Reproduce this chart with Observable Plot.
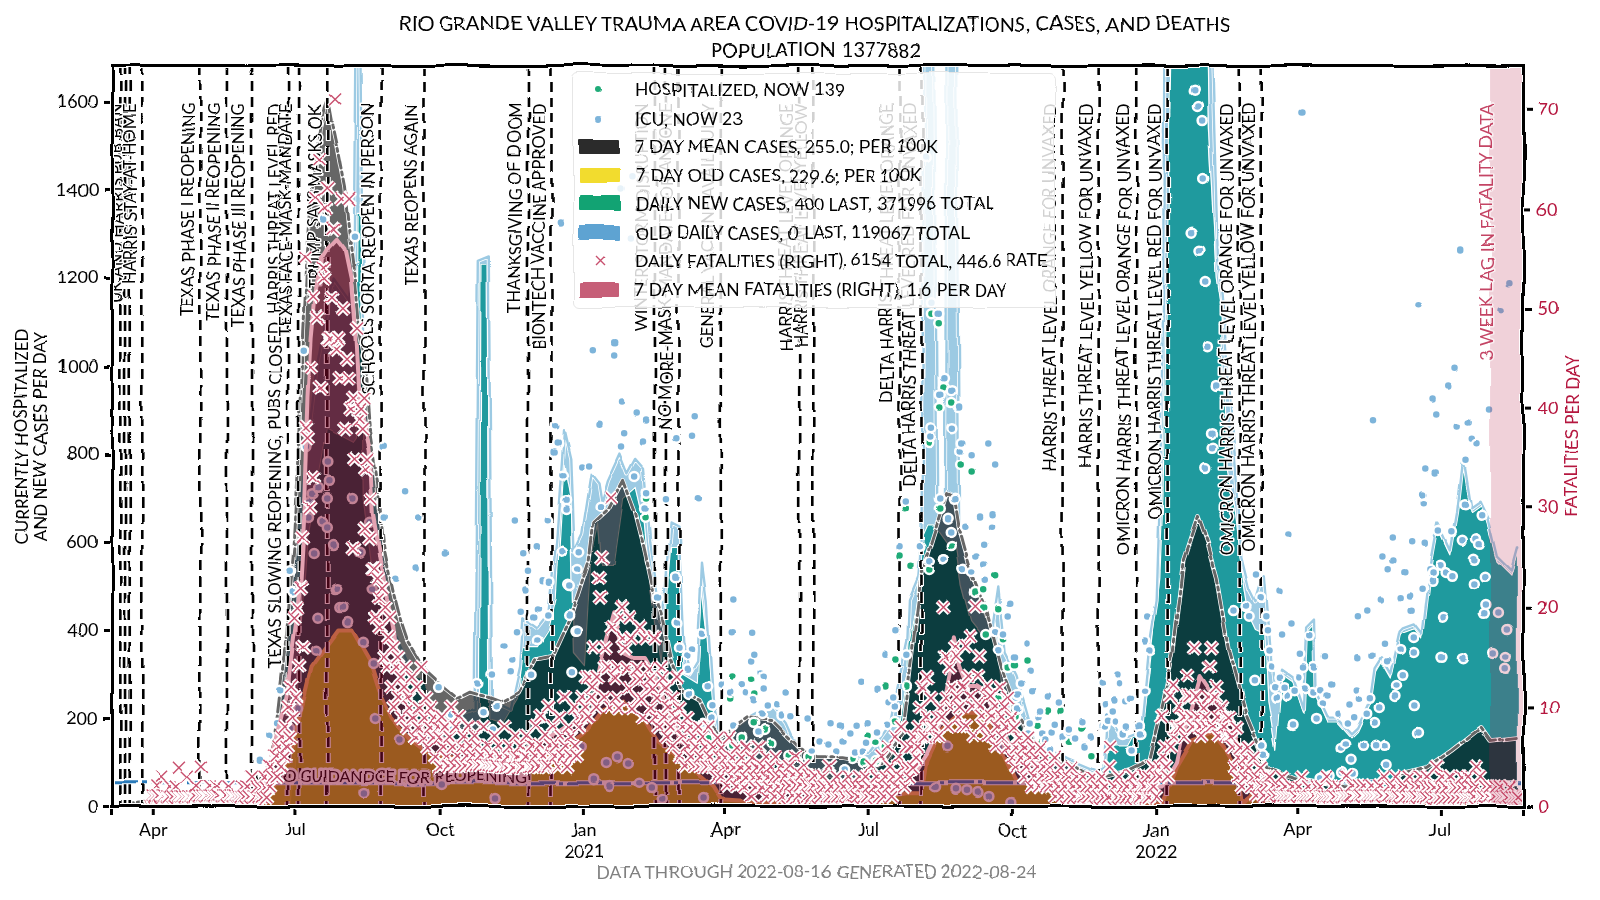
<!DOCTYPE html>
<html>
<head>
<meta charset="utf-8">
<script src="https://cdn.jsdelivr.net/npm/d3@7"></script>
<script src="https://cdn.jsdelivr.net/npm/@observablehq/plot@0.6"></script>
<style>
  html, body { margin: 0; background: white; overflow: hidden; }
  #page { position: relative; width: 1600px; height: 900px; font-family: Lato, 'Liberation Sans', sans-serif; filter: url(#wobble); background: white; }
  #title { box-sizing: border-box; height: 60px; padding: 10px 0 0 32px; text-align: center; font-size: 20px; line-height: 26px; }
  #plot svg { display: block; }
  #footer { box-sizing: border-box; padding-left: 32px; text-align: center; font-size: 17.5px; line-height: 20px; color: #808080; }
  #legend { position: absolute; left: 573px; top: 73px; width: 482px; height: 235px; box-sizing: border-box; background: rgba(255,255,255,.82); border: 1.5px solid #e6e6e6; border-radius: 6px; }
  .row { position: absolute; left: 0; height: 28px; line-height: 28px; font-size: 17.5px; white-space: nowrap; }
  .row span.txt { position: absolute; left: 61px; }
  .sw { position: absolute; left: 5px; top: 6px; width: 41px; height: 15px; border-radius: 1px; }
  .pt { position: absolute; left: 22px; top: 11px; width: 6px; height: 6px; border-radius: 50%; }
  .cross { position: absolute; left: 20px; top: 9px; }
  .crosses path[stroke="white"] { stroke-width: 5.2; }
</style>
</head>
<body>
<svg width="0" height="0" style="position:absolute">
  <filter id="wobble" color-interpolation-filters="sRGB" x="0" y="0" width="100%" height="100%">
    <feTurbulence type="fractalNoise" baseFrequency="0.018" numOctaves="2" seed="7" result="n"/>
    <feDisplacementMap in="SourceGraphic" in2="n" scale="6" xChannelSelector="R" yChannelSelector="G"/>
  </filter>
</svg>
<div id="page">
  <div id="title">RIO GRANDE VALLEY TRAUMA AREA COVID-19 HOSPITALIZATIONS, CASES, AND DEATHS<br>POPULATION 1377882</div>
  <div id="plot"></div>
  <div id="footer">DATA THROUGH 2022-08-16 GENERATED 2022-08-24</div>
  <div id="legend"></div>
</div>
<script>
const xStart = "2020-03-06";
const xEnd = "2022-08-23";
const yTop = 1684;
const rightTop = 74.4;
const whoLevel = 54;
const whoTextLevel = 68;
const whoTextDate = "2020-08-30";
const labelTop = 1598;
const lagStart = "2022-08-02";

const leftTicks = [0, 200, 400, 600, 800, 1000, 1200, 1400, 1600];
const rightTicks = [0, 10, 20, 30, 40, 50, 60, 70];
const tickDates = ["2020-03-06", "2020-04-01", "2020-07-01", "2020-10-01", "2021-01-01", "2021-04-01", "2021-07-01", "2021-10-01", "2022-01-01", "2022-04-01", "2022-07-01", "2022-08-23"];
const tickLabels = ["", "Apr", "Jul", "Oct", "Jan\n2021", "Apr", "Jul", "Oct", "Jan\n2022", "Apr", "Jul", ""];

const eventDates = ["2020-03-11", "2020-03-14", "2020-03-17", "2020-03-25", "2020-05-01", "2020-05-18", "2020-06-03", "2020-06-26", "2020-07-03", "2020-07-21", "2020-08-24", "2020-09-21", "2020-11-26", "2020-12-11", "2021-02-15", "2021-02-22", "2021-03-02", "2021-03-29", "2021-05-18", "2021-05-27", "2021-07-21", "2021-08-04", "2021-11-02", "2021-11-25", "2021-12-19", "2022-01-08", "2022-02-23", "2022-03-09"];
const eventLabels = ["", "", "UK AND HARRIS PUB BAN", "HARRIS STAY-AT-HOME", "TEXAS PHASE I REOPENING", "TEXAS PHASE II REOPENING", "TEXAS PHASE III REOPENING", "TEXAS SLOWING REOPENING, PUBS CLOSED, HARRIS THREAT LEVEL RED", "TEXAS FACE-MASK-MANDATE", "TRUMP SAYS MASKS OK", "SCHOOLS SORTA REOPEN IN PERSON", "TEXAS REOPENS AGAIN", "THANKSGIVING OF DOOM", "BIONTECH VACCINE APPROVED", "WINTER STORM DISRUPTION", "", "NO MORE-MASK-MANDATE FOR ANYONE", "GENERAL VACCINE AVAIL FULLY", "HARRIS THREAT LEVEL ORANGE", "HARRIS THREAT LEVEL YELLOW", "DELTA HARRIS THREAT LEVEL ORANGE", "DELTA HARRIS THREAT LEVEL RED FOR UNVAXED", "HARRIS THREAT LEVEL ORANGE FOR UNVAXED", "HARRIS THREAT LEVEL YELLOW FOR UNVAXED", "OMICRON HARRIS THREAT LEVEL ORANGE FOR UNVAXED", "OMICRON HARRIS THREAT LEVEL RED FOR UNVAXED", "OMICRON HARRIS THREAT LEVEL ORANGE FOR UNVAXED", "OMICRON HARRIS THREAT LEVEL YELLOW FOR UNVAXED"];

// date, cases per day (left axis)
const oldDailyCases = [["2020-03-06",0],["2020-04-01",10],["2020-06-01",30],["2020-06-15",100],["2020-06-25",350],["2020-07-05",700],["2020-07-15",1000],["2020-07-25",1200],["2020-08-04",1150],["2020-08-07",1300],["2020-08-08",1760],["2020-08-11",1760],["2020-08-13",1000],["2020-08-20",700],["2020-09-01",400],["2020-09-20",250],["2020-10-01",190],["2020-10-23",220],["2020-10-25",1240],["2020-11-01",1250],["2020-11-03",240],["2020-11-15",220],["2020-11-21",316],["2020-11-23",430],["2020-12-02",407],["2020-12-09",439],["2020-12-14",600],["2020-12-19",855],["2020-12-23",793],["2020-12-25",582],["2020-12-30",620],["2021-01-05",757],["2021-01-10",734],["2021-01-12",689],["2021-01-16",740],["2021-01-24",802],["2021-01-29",757],["2021-02-03",790],["2021-02-08",770],["2021-02-12",600],["2021-02-19",420],["2021-02-25",643],["2021-03-02",634],["2021-03-05",377],["2021-03-09",300],["2021-03-14",330],["2021-03-17",552],["2021-03-20",468],["2021-03-24",241],["2021-03-29",150],["2021-04-15",200],["2021-05-01",230],["2021-05-10",190],["2021-05-20",110],["2021-06-15",110],["2021-07-01",120],["2021-07-15",190],["2021-07-26",377],["2021-07-27",468],["2021-08-02",520],["2021-08-04",600],["2021-08-06",1760],["2021-08-12",1760],["2021-08-14",700],["2021-08-19",700],["2021-08-20",1760],["2021-08-26",1760],["2021-08-28",640],["2021-09-05",530],["2021-09-14",440],["2021-09-18",400],["2021-09-22",498],["2021-09-26",350],["2021-10-03",300],["2021-10-15",150],["2021-11-05",110],["2021-11-25",80],["2021-11-29",89],["2021-12-01",211],["2021-12-08",170],["2021-12-14",160],["2021-12-22",170],["2021-12-27",355],["2022-01-01",468],["2022-01-03",695],["2022-01-05",1100],["2022-01-06",1760],["2022-02-05",1760],["2022-02-09",1250],["2022-02-11",1182],["2022-02-13",1100],["2022-02-22",700],["2022-02-24",566],["2022-03-01",493],["2022-03-05",464],["2022-03-08",500],["2022-03-11",523],["2022-03-13",432],["2022-03-15",334],["2022-03-18",243],["2022-03-22",311],["2022-03-29",293],["2022-04-05",218],["2022-04-07",409],["2022-04-12",427],["2022-04-13",257],["2022-04-20",202],["2022-04-26",202],["2022-05-05",166],["2022-05-09",180],["2022-05-17",241],["2022-05-20",316],["2022-05-24",339],["2022-05-30",302],["2022-06-05",400],["2022-06-07",407],["2022-06-14",416],["2022-06-19",393],["2022-06-24",543],["2022-06-29",643],["2022-07-07",582],["2022-07-11",666],["2022-07-15",793],["2022-07-20",680],["2022-07-26",695],["2022-07-31",657],["2022-08-06",568],["2022-08-15",536],["2022-08-19",589]];
const newDailyCases = [["2020-06-28",0],["2020-07-04",400],["2020-07-08",600],["2020-07-21",860],["2020-08-06",830],["2020-08-08",840],["2020-08-09",1350],["2020-08-11",1350],["2020-08-13",700],["2020-08-20",500],["2020-09-01",420],["2020-09-10",300],["2020-09-20",290],["2020-10-01",200],["2020-10-15",160],["2020-10-26",180],["2020-10-27",1230],["2020-10-31",1230],["2020-11-01",200],["2020-11-10",190],["2020-11-20",250],["2020-11-23",361],["2020-12-02",361],["2020-12-09",400],["2020-12-14",475],["2020-12-19",780],["2020-12-23",700],["2020-12-25",350],["2021-01-01",320],["2021-01-05",560],["2021-01-10",640],["2021-01-12",550],["2021-01-20",550],["2021-01-26",700],["2021-02-03",725],["2021-02-08",650],["2021-02-12",500],["2021-02-19",330],["2021-02-25",589],["2021-03-02",589],["2021-03-05",300],["2021-03-14",280],["2021-03-17",498],["2021-03-20",400],["2021-03-24",200],["2021-03-29",100],["2021-04-05",60],["2021-04-20",110],["2021-05-15",90],["2021-06-01",70],["2021-06-15",60],["2021-07-01",70],["2021-07-15",110],["2021-07-20",160],["2021-07-26",300],["2021-07-27",370],["2021-08-01",470],["2021-08-03",600],["2021-08-08",640],["2021-08-12",640],["2021-08-20",600],["2021-08-26",600],["2021-08-30",500],["2021-09-05",420],["2021-09-14",380],["2021-09-20",420],["2021-09-24",280],["2021-10-03",210],["2021-10-15",130],["2021-11-04",60],["2021-11-25",50],["2021-12-01",140],["2021-12-14",140],["2021-12-20",180],["2021-12-22",166],["2021-12-27",300],["2021-12-30",400],["2022-01-03",520],["2022-01-05",700],["2022-01-07",1100],["2022-01-10",1700],["2022-01-12",1760],["2022-02-02",1760],["2022-02-03",1543],["2022-02-08",1202],["2022-02-11",1127],["2022-02-13",940],["2022-02-14",800],["2022-02-20",680],["2022-02-24",550],["2022-03-01",430],["2022-03-05",400],["2022-03-11",390],["2022-03-13",240],["2022-03-18",130],["2022-03-22",300],["2022-03-29",283],["2022-04-05",208],["2022-04-07",398],["2022-04-12",417],["2022-04-13",247],["2022-04-20",192],["2022-04-26",192],["2022-05-05",156],["2022-05-09",170],["2022-05-17",231],["2022-05-20",306],["2022-05-24",329],["2022-05-30",292],["2022-06-05",390],["2022-06-07",397],["2022-06-14",406],["2022-06-19",383],["2022-06-24",533],["2022-06-29",633],["2022-07-07",572],["2022-07-11",656],["2022-07-15",783],["2022-07-20",670],["2022-07-26",685],["2022-07-31",647],["2022-08-06",558],["2022-08-15",526],["2022-08-19",579]];
const meanCases = [["2020-03-06",0],["2020-04-01",12],["2020-05-01",18],["2020-05-20",20],["2020-06-05",45],["2020-06-15",104],["2020-06-19",202],["2020-06-25",393],["2020-06-30",600],["2020-07-03",800],["2020-07-06",1080],["2020-07-08",1240],["2020-07-11",1380],["2020-07-14",1480],["2020-07-16",1540],["2020-07-19",1590],["2020-07-21",1610],["2020-07-24",1550],["2020-07-27",1500],["2020-08-01",1406],["2020-08-04",1300],["2020-08-07",1211],["2020-08-10",1082],["2020-08-14",1000],["2020-08-17",854],["2020-08-22",740],["2020-08-26",590],["2020-09-01",490],["2020-09-06",420],["2020-09-10",377],["2020-09-20",316],["2020-10-01",280],["2020-10-12",248],["2020-10-20",262],["2020-11-01",250],["2020-11-10",238],["2020-11-20",257],["2020-12-01",332],["2020-12-11",339],["2020-12-18",393],["2020-12-23",430],["2021-01-04",560],["2021-01-07",643],["2021-01-16",673],["2021-01-26",741],["2021-02-02",673],["2021-02-08",589],["2021-02-14",491],["2021-02-19",439],["2021-02-25",332],["2021-03-04",264],["2021-03-15",241],["2021-03-21",195],["2021-03-29",157],["2021-04-15",202],["2021-05-01",195],["2021-05-18",134],["2021-05-29",111],["2021-06-14",111],["2021-07-04",98],["2021-07-10",98],["2021-07-23",166],["2021-08-04",530],["2021-08-11",611],["2021-08-20",711],["2021-08-25",702],["2021-08-28",634],["2021-09-05",530],["2021-09-14",452],["2021-09-24",316],["2021-10-05",211],["2021-10-17",134],["2021-11-04",105],["2021-11-19",75],["2021-11-27",66],["2021-12-14",82],["2021-12-27",105],["2022-01-05",241],["2022-01-11",355],["2022-01-18",560],["2022-01-27",657],["2022-02-02",598],["2022-02-08",520],["2022-02-16",355],["2022-02-27",211],["2022-03-07",143],["2022-03-13",89],["2022-03-29",66],["2022-05-01",43],["2022-05-26",36],["2022-06-07",75],["2022-06-23",89],["2022-07-08",127],["2022-07-27",180],["2022-08-02",150],["2022-08-19",157]];
const oldMeanCases = [["2020-03-06",0],["2020-06-10",5],["2020-06-20",60],["2020-06-28",134],["2020-07-07",257],["2020-07-11",316],["2020-07-20",361],["2020-07-28",400],["2020-08-06",400],["2020-08-17",332],["2020-08-23",264],["2020-08-31",202],["2020-09-11",157],["2020-09-22",127],["2020-10-13",105],["2020-11-03",89],["2020-11-17",98],["2020-12-15",120],["2021-01-01",166],["2021-01-12",218],["2021-01-26",241],["2021-02-08",202],["2021-02-17",150],["2021-03-04",105],["2021-03-24",43],["2021-03-29",14],["2021-04-15",10],["2021-06-10",8],["2021-07-10",20],["2021-07-25",30],["2021-08-04",30],["2021-08-07",105],["2021-08-16",173],["2021-08-28",211],["2021-09-14",211],["2021-09-24",127],["2021-10-03",59],["2021-10-17",43],["2021-11-01",30],["2021-11-21",14],["2022-01-05",7],["2022-01-14",89],["2022-01-24",150],["2022-02-06",166],["2022-02-15",127],["2022-02-22",82],["2022-02-25",7],["2022-03-05",30],["2022-03-08",5],["2022-08-19",4]];

// date, fatalities per day (right axis)
const meanFatalities = [["2020-03-25",0],["2020-04-10",1],["2020-06-01",1],["2020-06-10",1.4],["2020-06-15",4.7],["2020-06-20",8],["2020-06-25",11],["2020-06-28",14.8],["2020-07-01",18.5],["2020-07-04",22.8],["2020-07-07",31],["2020-07-09",41],["2020-07-11",47],["2020-07-14",52],["2020-07-17",55],["2020-07-21",56],["2020-07-27",57],["2020-08-01",56],["2020-08-05",53],["2020-08-08",47],["2020-08-10",41],["2020-08-17",36],["2020-08-19",29.5],["2020-08-24",25],["2020-08-28",21],["2020-09-01",18],["2020-09-04",14.8],["2020-09-11",9.7],["2020-09-22",7.4],["2020-10-01",7],["2020-10-15",6],["2020-11-01",5],["2020-11-15",5.5],["2020-12-01",6],["2020-12-20",8],["2021-01-05",9.5],["2021-01-12",14.8],["2021-01-20",19.5],["2021-01-26",15.5],["2021-02-01",15],["2021-02-08",15],["2021-02-19",12],["2021-02-25",9],["2021-03-04",6.4],["2021-03-15",5.4],["2021-03-24",4.4],["2021-04-01",4],["2021-04-15",3],["2021-05-01",3],["2021-06-01",2],["2021-07-01",2],["2021-07-17",2],["2021-07-30",3.4],["2021-08-07",5.4],["2021-08-16",8.4],["2021-08-22",13.4],["2021-08-24",17],["2021-08-28",14],["2021-09-02",12],["2021-09-08",12],["2021-09-14",11.4],["2021-09-18",10],["2021-09-27",7.4],["2021-10-03",5],["2021-10-16",4],["2021-11-01",3],["2021-12-01",1.5],["2022-01-05",2],["2022-01-14",4.4],["2022-01-18",7.4],["2022-01-22",9],["2022-01-29",13],["2022-02-09",10.4],["2022-02-18",9],["2022-02-24",4.7],["2022-03-01",3],["2022-03-20",2],["2022-04-15",1.2],["2022-06-01",1],["2022-08-19",1.6]];
// one value per day, first value is fatalitiesStart
const fatalitiesStart = "2020-03-30";
const dailyFatalities = [
0,1,0,1,2,1,0,3,1,1,0,1,1,2,0,1,0,2,1,4,1,1,0,1,3,1,1,0,1,1,
2,0,1,4,1,0,1,1,2,1,0,1,2,1,0,0,1,1,1,0,2,1,0,1,1,0,1,0,1,2,
1,0,2,1,0,3,1,1,2,0,1,2,1,3,2,1,4,2,3,5,
5,3,6,4,7,5,8,6,10,7,12,9,19,11,20,14,22,27,16,55,38,37,30,44,51,33,61,49,65,42,
54,53,60,62,47,47,51,58,71,46,47,43,61,50,38,45,43,61,40,41,26,35,48,39,40,38,41,28,34,35,
27,31,24,24,19,23,21,18,22,15,20,14,17,19,
12,16,10,14,15,11,13,9,12,14,8,11,10,13,9,7,12,8,10,14,7,9,11,6,8,10,7,9,5,8,
7,4,9,6,8,5,4,7,10,6,4,8,5,9,4,6,7,4,5,8,6,4,5,7,4,6,4,5,8,4,
4,6,4,5,4,7,4,4,6,5,4,4,8,4,5,6,4,4,5,7,5,4,6,4,5,5,7,4,4,6,
4,5,8,4,6,9,5,4,7,4,10,6,5,8,5,6,4,9,7,5,11,6,4,8,5,7,10,6,5,9,
8,11,9,10,13,9,13,11,12,16,10,13,23,21,25,11,14,16,14,10,31,18,13,11,14,10,19,20,17,16,
14,12,19,17,10,13,14,11,13,18,11,9,17,12,14,13,10,12,17,9,11,8,14,13,9,12,7,10,8,11,
6,9,13,10,5,8,7,4,9,6,8,5,7,4,6,8,4,5,7,4,6,4,8,5,4,6,4,3,7,5,
3,6,4,5,2,4,7,3,5,4,2,6,3,4,5,2,3,6,4,1,5,3,2,4,6,3,2,4,1,5,
3,2,4,1,3,5,2,3,1,4,2,3,0,2,4,1,3,2,5,1,2,3,0,4,2,1,3,2,1,2,
3,1,0,2,1,3,2,0,1,4,1,2,0,1,3,1,2,0,1,2,1,0,3,1,2,1,0,2,1,3,
0,2,1,3,1,2,4,1,0,2,3,1,5,2,1,3,6,2,4,1,3,7,2,5,3,8,4,2,6,4,
3,6,4,7,5,6,8,10,7,12,7,9,13,8,11,8,8,7,9,7,10,9,20,15,11,8,14,10,12,16,
15,11,9,10,8,12,16,8,13,17,11,10,7,20,13,15,10,9,8,11,12,7,11,9,7,10,6,8,12,9,
7,10,8,11,6,9,5,8,4,6,7,7,5,3,6,4,7,5,2,6,3,5,4,2,6,3,4,5,2,3,
4,2,3,5,1,3,2,4,1,3,2,0,3,1,4,2,1,3,0,2,1,3,1,2,0,1,2,3,1,0,
2,1,0,3,1,2,0,1,4,6,0,2,1,0,3,1,2,0,1,2,0,1,3,0,2,1,0,1,2,3,
2,1,3,1,2,4,2,3,1,4,3,9,5,6,4,3,11,6,12,7,8,8,10,8,9,9,7,11,13,11,
9,8,16,11,9,8,8,7,10,9,8,11,14,16,8,11,12,9,7,10,8,8,9,7,9,7,7,6,4,8,
3,5,6,2,4,3,5,6,4,2,3,5,1,3,2,4,2,1,3,2,3,1,2,2,1,0,2,1,3,1,
2,1,0,1,2,1,1,0,2,1,3,1,0,1,2,1,0,1,1,2,0,1,2,1,0,1,3,1,0,1,
2,1,1,0,2,1,0,1,1,3,1,0,1,2,0,1,1,2,1,0,2,1,1,0,1,2,1,0,1,1,
2,1,0,3,1,1,2,0,1,2,1,3,1,0,2,1,1,2,0,1,3,1,2,1,0,2,1,3,1,2,
1,3,2,1,0,2,1,4,1,2,3,1,2,0,1,3,2,1,2,0,1,2,3,1,2,1,3,1,2,1,
0,2,4,1,3,1,0,2,1,1,2,0,1,1,2,0,1,2,1,0,1,1,0,2,1,0,1,0,1,0
];

// days since xStart, patients (left axis)
const icuPatients = [[94,104],[100,161],[105,189],[107,264],[113,536],[115,489],[113,180],[118,225],[122,1036],[124,818],[125,657],[126,691],[128,711],[128,575],[130,355],[131,430],[132,723],[134,648],[135,1332],[137,700],[137,634],[138,784],[139,739],[139,1064],[141,593],[142,493],[143,495],[145,452],[147,452],[150,418],[153,702],[154,1295],[158,580],[160,373],[161,32],[164,648],[165,495],[166,325],[167,198],[173,657],[173,820],[181,518],[181,520],[183,152],[186,714],[194,541],[194,543],[195,657],[201,157],[208,273],[210,50],[212,575],[216,209],[217,175],[233,282],[236,214],[242,302],[242,175],[244,18],[245,230],[250,366],[254,305],[255,332],[256,650],[258,398],[261,445],[262,573],[264,493],[264,534],[265,536],[267,295],[269,430],[269,432],[270,589],[271,377],[272,450],[273,198],[275,514],[277,648],[278,434],[279,511],[282,807],[283,864],[284,827],[286,1327],[287,755],[287,580],[289,695],[289,675],[291,434],[291,505],[292,502],[293,305],[295,398],[296,398],[297,541],[298,580],[299,775],[299,134],[304,775],[307,1039],[307,61],[310,870],[311,680],[315,98],[317,48],[320,1055],[320,1027],[322,111],[324,1402],[325,918],[325,818],[327,848],[329,98],[330,1293],[331,1430],[334,750],[335,891],[336,55],[339,825],[340,677],[341,875],[341,714],[344,43],[348,475],[350,16],[353,698],[359,839],[359,520],[360,418],[361,361],[366,343],[367,311],[367,257],[369,845],[369,359],[372,889],[374,698],[376,395],[376,189],[377,18],[379,273],[382,202],[382,230],[388,277],[394,257],[395,398],[396,468],[396,184],[402,273],[404,255],[408,395],[408,327],[409,239],[410,345],[412,168],[414,209],[414,302],[416,295],[416,266],[418,227],[424,230],[427,207],[430,257],[433,205],[444,202],[446,125],[451,148],[456,141],[458,189],[461,125],[464,184],[465,148],[467,84],[470,168],[473,123],[474,186],[477,286],[478,125],[479,145],[480,145],[481,189],[487,168],[488,270],[493,345],[494,186],[495,239],[498,250],[499,227],[500,398],[502,589],[506,691],[507,345],[515,589],[519,1475],[521,555],[521,841],[522,861],[523,1145],[525,45],[527,1120],[528,700],[528,936],[530,973],[530,561],[532,136],[533,655],[535,625],[535,945],[536,861],[537,698],[538,39],[540,909],[541,807],[542,827],[543,539],[544,636],[545,36],[548,798],[549,532],[551,568],[552,32],[554,659],[556,595],[556,550],[557,511],[558,825],[559,23],[561,636],[562,664],[563,775],[563,398],[565,355],[566,134],[568,393],[570,227],[571,434],[572,461],[573,9],[575,341],[576,250],[577,225],[577,257],[579,282],[583,375],[584,168],[585,191],[585,311],[586,264],[590,205],[591,218],[593,168],[595,152],[596,250],[598,130],[599,168],[600,189],[601,186],[603,234],[606,157],[606,157],[610,166],[610,173],[614,152],[618,193],[618,189],[620,139],[620,134],[624,161],[624,157],[631,277],[631,182],[633,230],[633,182],[635,205],[635,195],[638,216],[639,239],[639,241],[640,193],[641,300],[642,280],[645,166],[646,239],[647,182],[649,245],[650,127],[655,184],[656,166],[658,261],[659,377],[660,432],[662,357],[688,1305],[690,1630],[692,1593],[693,1264],[695,1561],[696,1425],[697,1193],[698,768],[699,1045],[701,845],[702,814],[704,957],[715,443],[723,452],[725,430],[728,289],[730,527],[733,473],[734,141],[735,120],[736,430],[737,398],[738,352],[739,318],[741,273],[742,248],[744,295],[745,491],[746,391],[747,270],[749,250],[750,618],[752,418],[753,184],[754,261],[757,293],[758,345],[759,1577],[760,316],[761,268],[764,389],[766,259],[767,316],[768,198],[769,64],[771,264],[772,234],[774,339],[775,252],[776,70],[778,277],[782,211],[783,132],[784,77],[786,141],[788,191],[789,234],[790,105],[791,73],[792,205],[793,266],[794,339],[795,430],[795,245],[797,48],[798,139],[800,211],[801,443],[802,248],[803,345],[804,880],[805,191],[806,139],[808,225],[809,468],[810,568],[811,370],[812,139],[813,330],[813,95],[814,539],[816,609],[817,559],[818,250],[819,275],[821,473],[821,357],[823,298],[824,530],[827,477],[828,445],[829,598],[830,384],[830,350],[831,227],[833,1139],[833,166],[835,495],[836,709],[837,689],[837,595],[838,768],[840,539],[841,514],[842,927],[842,532],[844,759],[845,893],[846,625],[847,548],[848,339],[849,430],[850,532],[852,957],[854,623],[854,523],[856,995],[858,866],[859,1266],[861,605],[861,336],[862,686],[863,786],[865,875],[867,836],[868,564],[868,507],[870,823],[870,611],[872,598],[873,664],[875,523],[875,439],[876,459],[878,902],[881,350],[884,441],[886,1128],[888,314],[889,341],[890,402],[891,1189]];
const hospitalPatients = [[299,775],[340,655],[341,702],[380,155],[382,130],[394,243],[396,293],[396,141],[402,157],[404,98],[408,286],[409,189],[410,252],[416,175],[417,102],[420,145],[432,116],[444,111],[472,109],[479,100],[479,100],[481,161],[481,161],[486,145],[487,102],[492,134],[493,275],[499,193],[500,334],[502,568],[506,673],[507,275],[509,545],[520,827],[521,534],[523,1120],[527,1098],[528,907],[528,677],[530,952],[530,561],[535,918],[535,593],[541,775],[548,759],[551,484],[556,489],[556,450],[557,391],[563,523],[563,398],[565,448],[565,245],[568,380],[571,318],[575,323],[576,207],[583,334],[584,173],[590,186],[593,150],[596,218],[598,118],[604,216],[609,145],[610,145],[618,177],[618,175],[625,114]];

const lag3Week = "3 WEEK LAG IN FATALITY DATA";
const whoText = "WHO GUIDANDCE FOR REOPENING";
const legendRows = [
  ["pt", "#1fab78", "HOSPITALIZED, NOW 139"],
  ["pt", "#7db4da", "ICU, NOW 23"],
  ["sw", "#2b2b2b", "7 DAY MEAN CASES, 255.0; PER 100K"],
  ["sw", "#f2dc2e", "7 DAY OLD CASES, 229.6; PER 100K"],
  ["sw", "#12a373", "DAILY NEW CASES, 400 LAST, 371996 TOTAL"],
  ["sw", "#5ea3d2", "OLD DAILY CASES, 0 LAST, 119067 TOTAL"],
  ["x", "#c8506e", "DAILY FATALITIES (RIGHT), 6154 TOTAL, 446.6 RATE"],
  ["sw", "#c65f78", "7 DAY MEAN FATALITIES (RIGHT), 1.6 PER DAY"]
];

const crimson = "#b5173f";
const crossColor = "#c8506e";
const leftFromRight = d3.scaleLinear().domain([0, rightTop]).range([0, yTop]);
const rows = pairs => pairs.map(([date, value]) => ({ date: new Date(date), value }));
const fatalRows = pairs => pairs.map(([date, value]) => ({ date: new Date(date), value: leftFromRight(value) }));
const dayRows = list => list.map(([day, value]) => ({ date: d3.utcDay.offset(new Date(xStart), day), value }));

const oldDaily = rows(oldDailyCases);
const newDaily = rows(newDailyCases);
const meanRows = rows(meanCases);
const oldMean = rows(oldMeanCases);
const redMean = fatalRows(meanFatalities);
// every cross gets its own white halo first, so later ones cover earlier ones
const crosses = dailyFatalities.flatMap((v, i) => {
  const row = { date: d3.utcDay.offset(new Date(fatalitiesStart), i), value: leftFromRight(v) };
  return [{ ...row, pen: "white" }, { ...row, pen: crossColor }];
});
const events = eventDates.map((d, i) => ({ date: new Date(d), label: eventLabels[i] }));
const labelled = events.filter(d => d.label);
const tickByTime = new Map(tickDates.map((d, i) => [+new Date(d), tickLabels[i]]));
const area = (data, o) => Plot.areaY(data, { x: "date", y: "value", clip: true, ...o });
const line = (data, o) => Plot.lineY(data, { x: "date", y: "value", clip: true, ...o });

const chart = Plot.plot({
  width: 1600,
  height: 802,
  marginLeft: 112,
  marginRight: 77,
  marginTop: 5,
  marginBottom: 56,
  style: { fontFamily: "Lato, 'Liberation Sans', sans-serif", fontSize: "18px", background: "white", color: "black", overflow: "visible" },
  x: { type: "utc", domain: [new Date(xStart), new Date(xEnd)] },
  y: { domain: [0, yTop] },
  marks: [
    // daily cases
    area(oldDaily, { fill: "#9ccae3" }),
    area(newDaily, { fill: "#1f9a9e" }),
    line(newDaily, { stroke: "white", strokeWidth: 1.2 }),
    line(oldDaily, { stroke: "white", strokeWidth: 4 }),
    line(oldDaily, { stroke: "#9ccae3", strokeWidth: 2.4 }),
    // 7 day means
    area(meanRows, { fill: "black", fillOpacity: 0.6 }),
    line(meanRows, { stroke: "white", strokeWidth: 4.5 }),
    line(meanRows, { stroke: "#666", strokeWidth: 3, strokeDasharray: "14 4 3 4" }),
    area(oldMean, { fill: "#f3dc00", fillOpacity: 0.7 }),
    line(oldMean, { stroke: "#f3b95a", strokeWidth: 4 }),
    // events
    Plot.ruleX(events, { x: "date", stroke: "white", strokeWidth: 5, strokeDasharray: "11 5" }),
    Plot.ruleX(events, { x: "date", stroke: "black", strokeWidth: 2.6, strokeDasharray: "10 6" }),
    Plot.text(labelled, { x: "date", y: () => labelTop, text: "label", rotate: -90, textAnchor: "end", dx: -12, fontSize: 16.5, fill: "black", stroke: "white", strokeWidth: 3 }),
    // who guidance
    Plot.ruleY([whoLevel], { stroke: "white", strokeWidth: 5 }),
    Plot.ruleY([whoLevel], { stroke: "#2b7bba", strokeWidth: 3, strokeDasharray: "26 4 4 4" }),
    Plot.text([whoText], { x: () => new Date(whoTextDate), y: () => whoTextLevel, text: d => d, fontSize: 16, fill: "black", stroke: "white", strokeWidth: 5 }),
    // patients
    Plot.dot(dayRows(hospitalPatients), { x: "date", y: "value", r: 4.5, fill: "#1fab78", stroke: "white", strokeWidth: 2.5, clip: true }),
    Plot.dot(dayRows(icuPatients), { x: "date", y: "value", r: 4.5, fill: "#7db4da", stroke: "white", strokeWidth: 2.5, clip: true }),
    // fatalities, right axis
    area(redMean, { fill: "#88082b", fillOpacity: 0.5 }),
    line(redMean, { stroke: "#e4a3b2", strokeWidth: 4 }),
    Plot.dot(crosses, { x: "date", y: "value", symbol: "times", r: 5.5, stroke: "pen", strokeWidth: 1.4, clip: true, className: "crosses" }),
    // lag span
    Plot.rect([lagStart], { x1: d => new Date(d), x2: () => new Date(xEnd), y1: () => 0, y2: () => yTop, fill: crimson, fillOpacity: 0.2 }),
    Plot.text([lag3Week], { x: () => new Date(lagStart), y: () => labelTop, text: d => d, rotate: -90, textAnchor: "end", dx: -3, fontSize: 17.8, fill: crimson, fillOpacity: 0.8, stroke: "white", strokeWidth: 3, strokeOpacity: 0.6 }),
    // axes
    Plot.axisY(leftTicks, { anchor: "left", label: null, tickSize: 8, tickPadding: 6, strokeWidth: 3, fontSize: 18, tickFormat: d => String(d) }),
    Plot.axisY(rightTicks.map(leftFromRight), { anchor: "right", label: null, tickSize: 8, tickPadding: 6, strokeWidth: 3, color: crimson, stroke: "black", fontSize: 18, tickFormat: d => Math.round(leftFromRight.invert(d)) }),
    Plot.axisX(tickDates.map(d => new Date(d)), { label: null, tickSize: 9, tickPadding: 6, strokeWidth: 3, fontSize: 18, lineHeight: 1.15, tickFormat: d => tickByTime.get(+d) }),
    Plot.text(["CURRENTLY HOSPITALIZED\nAND NEW CASES PER DAY"], { frameAnchor: "left", textAnchor: "middle", rotate: -90, dx: -81, fontSize: 17, lineHeight: 1.1 }),
    Plot.text(["FATALITIES PER DAY"], { frameAnchor: "right", textAnchor: "middle", rotate: -90, dx: 49, fontSize: 17, fill: crimson }),
    Plot.frame({ stroke: "white", strokeWidth: 5 }),
    Plot.frame({ stroke: "black", strokeWidth: 3 })
  ]
});
document.getElementById("plot").appendChild(chart);

// legend sits over the plot like the original one
const legend = document.getElementById("legend");
legendRows.forEach(([kind, color, label], i) => {
  const row = document.createElement("div");
  row.className = "row";
  row.style.top = (2 + i * 28.5) + "px";
  const mark = kind === "x"
    ? `<svg class="cross" width="11" height="11"><path d="M1 1L10 10M10 1L1 10" stroke="${color}" stroke-width="1.4"/></svg>`
    : `<div class="${kind}" style="background:${color}"></div>`;
  row.innerHTML = mark + `<span class="txt">${label}</span>`;
  legend.appendChild(row);
});
</script>
</body>
</html>
